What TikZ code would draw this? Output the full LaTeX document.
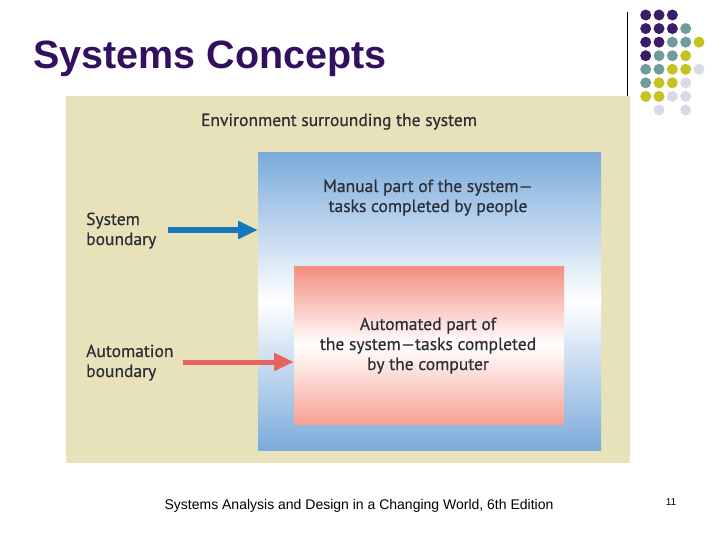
\documentclass[tikz,border=0pt]{standalone}
\usepackage{fontspec}
\setmainfont{Liberation Sans}
\newfontfamily\figfont[FakeBold=0.5]{PT Sans}
\usetikzlibrary{arrows.meta}
\definecolor{titlepurple}{HTML}{32105F}
\definecolor{dotP}{HTML}{3B1C66}
\definecolor{dotT}{HTML}{709C9E}
\definecolor{dotY}{HTML}{C6C21F}
\definecolor{dotL}{HTML}{D9D9EA}
\definecolor{envbg}{HTML}{E8E2BA}
\definecolor{sysblue}{HTML}{7BABDC}
\definecolor{autored}{HTML}{F48E7E}
\definecolor{autoredlow}{HTML}{F6A292}
\definecolor{arrowblue}{HTML}{1878BC}
\definecolor{arrowred}{HTML}{EA625C}
\definecolor{figtext}{HTML}{2C2E36}
\tikzset{
  figlabel/.style={font=\figfont\fontsize{17.5}{20}\selectfont, text=figtext, inner sep=0pt},
  dot/.style={circle, inner sep=0pt, minimum size=11pt},
  bigarrow/.style={line width=5pt, -{Triangle[length=20pt,width=17pt]}, shorten >=0pt}
}
\begin{document}
\begin{tikzpicture}[x=1pt,y=-1pt]
\useasboundingbox (0,0) rectangle (720,540);
% title
\node[anchor=base west, inner sep=0pt, text=titlepurple, font=\bfseries\fontsize{39.5}{44}\selectfont] (title) at (33,69) {Systems Concepts};
% vertical rule
\draw[line width=0.9pt] (627,12) -- (627,97);
% dots
\foreach \row/\cols in {0/{0/dotP,1/dotP,2/dotP},
  1/{0/dotP,1/dotP,2/dotP,3/dotT},
  2/{0/dotP,1/dotP,2/dotT,3/dotT,4/dotY},
  3/{0/dotP,1/dotT,2/dotT,3/dotY},
  4/{0/dotT,1/dotT,2/dotY,3/dotY,4/dotL},
  5/{0/dotT,1/dotY,2/dotY,3/dotL},
  6/{0/dotY,1/dotY,2/dotL,3/dotL},
  7/{1/dotL,3/dotL}}{
  \foreach \c/\col in \cols {
    \node[dot, fill=\col] (d\row\c) at ({645.7+13.33*\c},{15+13.57*\row}) {};
  }
}
% environment
\fill[envbg] (66,96) rectangle (630,463);
\node[figlabel, anchor=base] (env) at (339,126) {Environment surrounding the system};
% system box
\shade[top color=sysblue, bottom color=sysblue, middle color=white] (258,153) rectangle (601,450);
\coordinate (sysW) at (258,230);
% automation box
\shade[top color=autored, bottom color=autoredlow, middle color=white] (294,266) rectangle (564,424);
\coordinate (autoW) at (294,362);
\node[figlabel, anchor=base, align=center] (manual) at (428,212) {Manual part of the system—\\tasks completed by people};
\node[figlabel, anchor=base, align=center] (auto) at (428,370) {Automated part of\\the system—tasks completed\\by the computer};
% left labels
\node[figlabel, anchor=base west, align=left] (syslab) at (86,245) {System\\boundary};
\node[figlabel, anchor=base west, align=left] (autolab) at (86,377) {Automation\\boundary};
\coordinate (sysS) at (168,230);
\coordinate (autoS) at (183,362);
\draw[bigarrow, draw=arrowblue, fill=arrowblue] (sysS) -- (sysW);
\draw[bigarrow, draw=arrowred, fill=arrowred] (autoS) -- (autoW);
% footer
\node[anchor=base, inner sep=0pt, font=\fontsize{14}{16}\selectfont] (footer) at (359,509) {Systems Analysis and Design in a Changing World, 6th Edition};
\node[anchor=base, inner sep=0pt, font=\fontsize{10}{12}\selectfont] (pagenum) at (671,505) {11};
\end{tikzpicture}
\end{document}
